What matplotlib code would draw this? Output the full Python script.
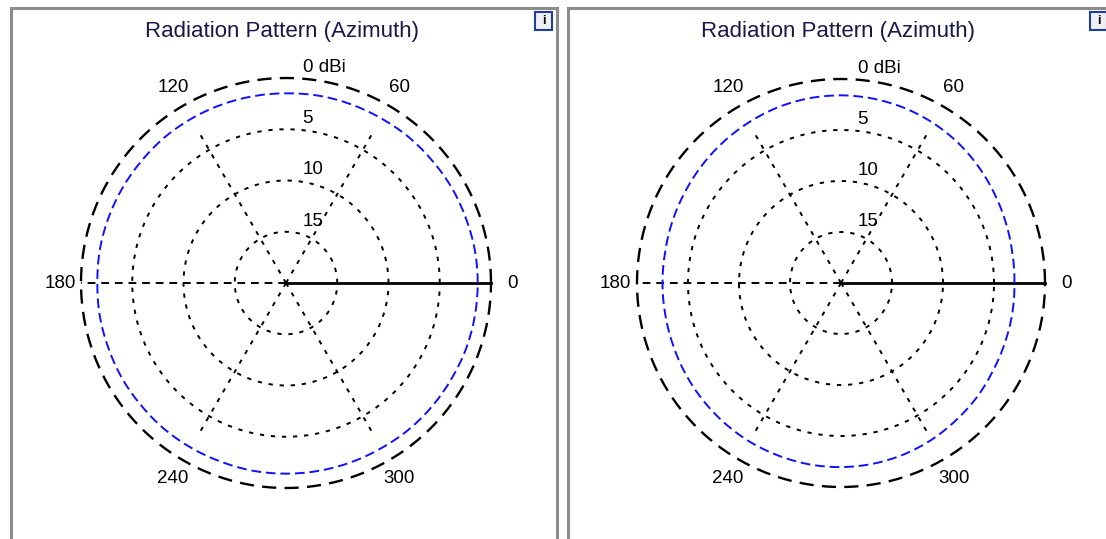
import numpy as np
import matplotlib
matplotlib.use("Agg")
import matplotlib.pyplot as plt
from matplotlib.patches import Rectangle

plt.rcParams['font.family'] = ['Liberation Sans', 'DejaVu Sans']

# data: azimuth gain (dBi), every 10 degrees
angles_deg = list(range(0, 360, 10))
gain_left = [-1.3, -1.3, -1.35, -1.35, -1.4, -1.4, -1.45, -1.45, -1.45,
             -1.5, -1.5, -1.5, -1.5, -1.5, -1.55, -1.55, -1.55, -1.55,
             -1.6, -1.55, -1.55, -1.5, -1.5, -1.45, -1.45, -1.45, -1.4,
             -1.4, -1.4, -1.4, -1.4, -1.35, -1.35, -1.35, -1.3, -1.3]
gain_right = [-3.0, -2.95, -2.8, -2.6, -2.35, -2.1, -1.9, -1.75, -1.65,
              -1.6, -1.62, -1.7, -1.85, -2.0, -2.15, -2.3, -2.4, -2.5,
              -2.5, -2.5, -2.45, -2.35, -2.25, -2.15, -2.05, -2.0, -1.95,
              -1.95, -2.0, -2.1, -2.25, -2.45, -2.6, -2.8, -2.9, -2.95]
ring_values = [-15, -10, -5, 0]
ring_labels = ["15", "10", "5", "0 dBi"]
spoke_angles = [60, 120, 240, 300]
angle_labels = ["0", "60", "120", "180", "240", "300"]
title = "Radiation Pattern (Azimuth)"

W, H = 1106, 539
fig = plt.figure(figsize=(W / 100, H / 100), dpi=100)


def fx(x):
    return x / W


def fy(y):
    return 1 - y / H


def draw_panel(x0, x1, cx, cy, R, gains):
    # panel frame
    fig.add_artist(Rectangle((fx(x0), fy(545)), fx(x1 - x0), (545 - 8) / H,
                             transform=fig.transFigure, fill=False,
                             edgecolor="#8c8c8c", lw=2.2))
    fig.text(fx((x0 + x1) / 2 - 2), fy(32), title, ha="center", va="center",
             fontsize=16, color="#18184a")
    # little info icon
    fig.add_artist(Rectangle((fx(x1 - 22), fy(30)), fx(17), 18 / H,
                             transform=fig.transFigure, facecolor="#f0f0f4",
                             edgecolor="#1f3f9f", lw=1.5))
    fig.text(fx(x1 - 13.5), fy(21), "i", ha="center", va="center",
             fontsize=9, fontweight="bold", color="black")

    ax = fig.add_axes([fx(cx - R), fy(cy + R), 2 * R / W, 2 * R / H],
                      projection="polar")
    ax.set_theta_zero_location("E")
    ax.set_ylim(-20, 0)
    ax.axis("off")

    th = np.linspace(0, 2 * np.pi, 721)
    for rv in ring_values[:-1]:
        ax.plot(th, np.full_like(th, rv), color="black", lw=1.4,
                ls=(0, (2.2, 3.5)), clip_on=False)
    ax.plot(th, np.full_like(th, 0.0), color="black", lw=1.7,
            ls=(0, (6, 3.5)), clip_on=False)

    for a in spoke_angles:
        t = np.deg2rad(a)
        ax.plot([t, t], [-20, -2.8], color="black", lw=1.4,
                ls=(0, (2.2, 3.5)), clip_on=False)
    ax.plot([np.pi, np.pi], [-20, 0], color="black", lw=1.4,
            ls=(0, (4, 3)), clip_on=False)
    ax.plot([0, 0], [-20, 0], color="black", lw=2.0, clip_on=False)

    # pattern trace (drawn as arcs between the sampled angles)
    t = np.deg2rad(angles_deg + [360])
    g = gains + gains[:1]
    trace, = ax.plot(t, g, color="#1010ff", lw=1.4, ls=(0, (5, 2.5)),
                     clip_on=False)
    trace.get_path()._interpolation_steps = 20

    # ring labels
    for rv, lab in zip(ring_values, ring_labels):
        ax.annotate(lab, xy=(np.pi / 2, rv), xytext=(12, 1.5),
                    textcoords="offset points", ha="left", va="bottom",
                    fontsize=13.5, color="black", annotation_clip=False)
    # angle labels
    r_lab = -20 + 20 * 226 / R
    for lab in angle_labels:
        a = np.deg2rad(int(lab))
        ax.text(a, r_lab, lab, ha="center", va="center", fontsize=13.5,
                color="black", clip_on=False)
    return ax


draw_panel(11, 557, 286, 283, 205, gain_left)
draw_panel(568, 1112, 841, 283, 204, gain_right)

fig.savefig("out.png", dpi=100)
plt.close(fig)
